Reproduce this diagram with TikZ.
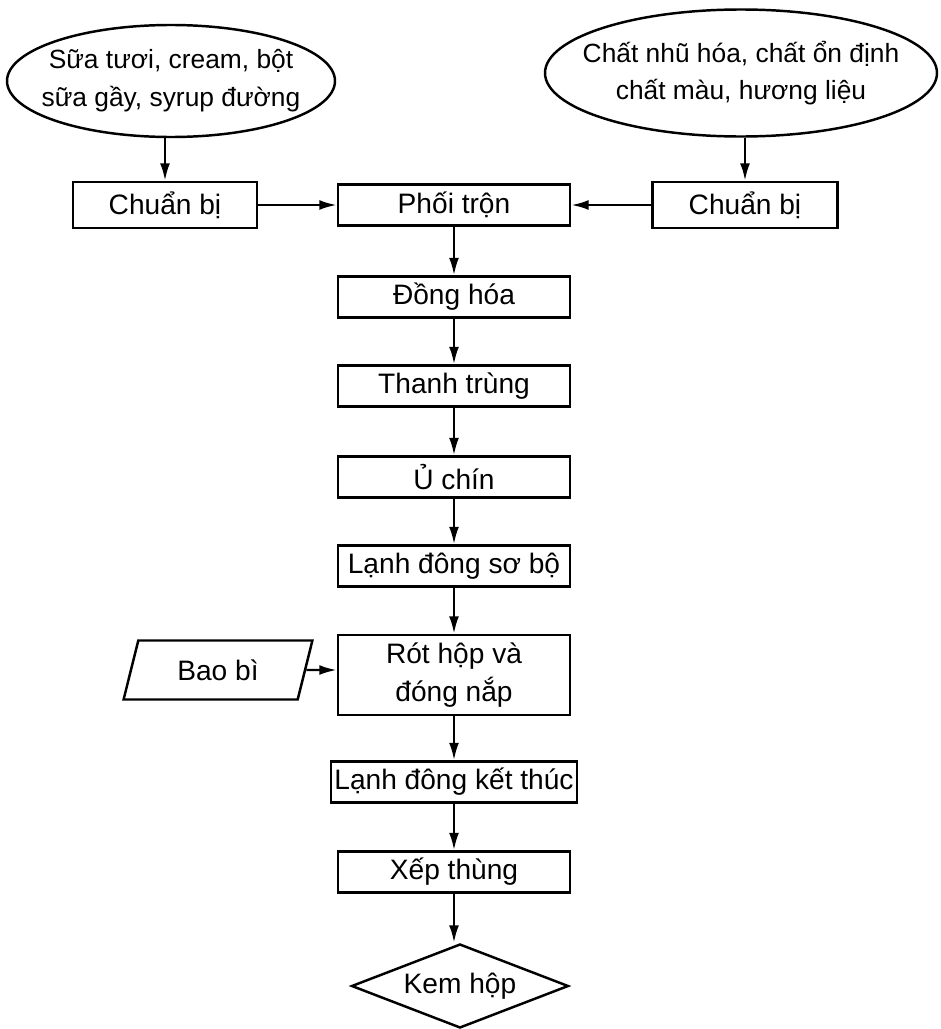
\documentclass[tikz,border=0pt]{standalone}
\usepackage{fontspec}
\setmainfont{Liberation Sans}
\usetikzlibrary{arrows.meta, positioning, shapes.geometric}

\begin{document}
\begin{tikzpicture}[
  box/.style={draw, line width=1.4pt, minimum width=4.64cm, minimum height=0.82cm,
              inner xsep=2pt, font=\fontsize{16}{21.5}\selectfont, align=center},
  src/.style={draw, ellipse, line width=1.4pt, inner xsep=-8mm, inner ysep=0pt,
              font=\fontsize{15}{21.5}\selectfont, align=center},
  arr/.style={-{Latex[length=3.5mm, width=2mm]}, line width=1.4pt}
]
  \useasboundingbox (0,0) rectangle (18.82,-20.58);

  % nguyen lieu
  \node[src, minimum width=6.56cm, minimum height=2.24cm] (milk) at (3.42, -1.62)
    {Sữa tươi, cream, bột\\sữa gầy, syrup đường};
  \node[src, minimum width=7.84cm, minimum height=2.54cm] (addit) at (14.82, -1.46)
    {Chất nhũ hóa, chất ổn định\\chất màu, hương liệu};

  \node[box, minimum width=3.68cm, minimum height=0.92cm] (prep1) at (3.3, -4.1)  {Chuẩn bị};
  \node[box]                                               (mix)   at (9.08, -4.1) {Phối trộn};
  \node[box, minimum width=3.7cm, minimum height=0.92cm]  (prep2) at (14.9, -4.1) {Chuẩn bị};

  % day chuyen chinh
  \node[box] (homog)  at (9.08, -5.94)  {Đồng hóa};
  \node[box] (past)   at (9.08, -7.72)  {Thanh trùng};
  \node[box] (age)    at (9.08, -9.54)  {Ủ chín};
  \node[box] (prefrz) at (9.08, -11.32) {Lạnh đông sơ bộ};
  \node[box, minimum height=1.6cm] (fill) at (9.08, -13.5) {Rót hộp và\\đóng nắp};
  \node[draw, trapezium, trapezium left angle=76, trapezium right angle=104,
        line width=1.4pt, inner xsep=2pt, minimum width=2.56cm, minimum height=1.18cm,
        font=\fontsize{16}{21.5}\selectfont] (pack) at (4.36, -13.4) {Bao bì};
  \node[box, minimum width=4.86cm] (freeze) at (9.08, -15.64) {Lạnh đông kết thúc};
  \node[box] (cases)  at (9.08, -17.44) {Xếp thùng};
  \node[draw, diamond, aspect=2.6, line width=1.4pt, inner sep=0pt,
        minimum width=4.34cm, minimum height=1.68cm,
        font=\fontsize{16}{21.5}\selectfont] (prod) at (9.2, -19.72) {Kem hộp};

  \draw[arr] (milk.south -| prep1) -- (prep1);
  \draw[arr] (addit.south -| prep2) -- (prep2);
  \draw[arr] (prep1) -- (mix);
  \draw[arr] (prep2) -- (mix);
  \draw[arr] (mix) -- (homog);
  \draw[arr] (homog) -- (past);
  \draw[arr] (past) -- (age);
  \draw[arr] (age) -- (prefrz);
  \draw[arr] (prefrz) -- (fill);
  \draw[arr] (pack) -- (fill.west |- pack);
  \draw[arr] (fill) -- (freeze);
  \draw[arr] (freeze) -- (cases);
  \draw[arr] (cases) -- (cases |- prod.north);
\end{tikzpicture}
\end{document}
